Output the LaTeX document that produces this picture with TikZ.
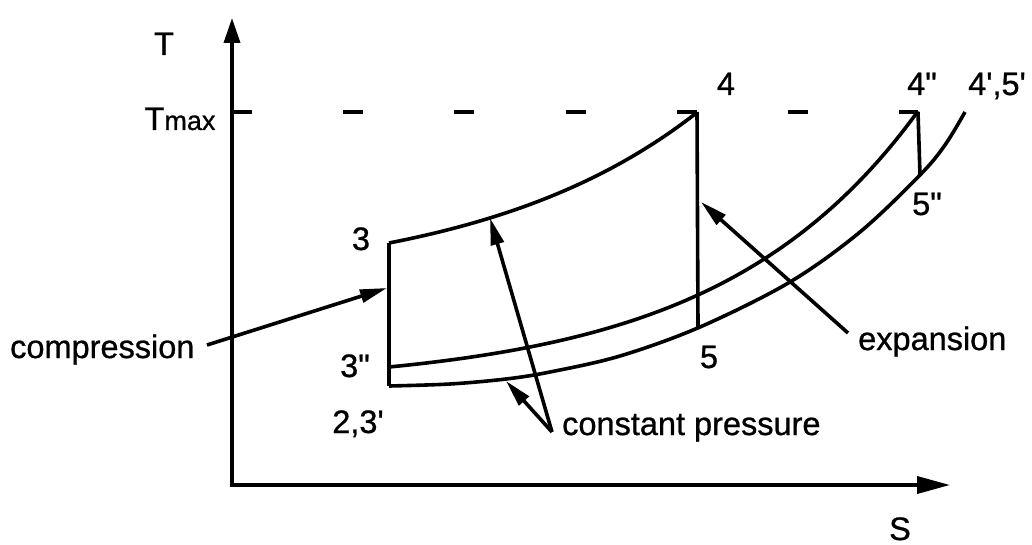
\documentclass[tikz,border=0pt]{standalone}
\usepackage{fontspec}
\newfontfamily\lab[FakeBold=0.8]{Liberation Sans}
\usetikzlibrary{arrows.meta}
\begin{document}
\begin{tikzpicture}[x=1pt,y=-1pt,
  line/.style={line width=3.6pt},
  axisline/.style={line width=3.6pt,line join=miter,{Triangle[length=25pt,width=16pt]}-{Triangle[length=33pt,width=17pt]}},
  pointer/.style={line width=3.6pt,-{Triangle[length=27pt,width=13pt]}},
  lbl/.style={font=\lab\fontsize{32.5}{38}\selectfont, inner sep=0pt, anchor=base},
  word/.style={font=\lab\fontsize{32.5}{38}\selectfont, inner sep=0pt, anchor=base west},
]
\useasboundingbox (0,0) rectangle (1032,545);
\fill[white] (0,0) rectangle (1032,545);

% axes
\coordinate (O) at (232,485);
\coordinate (Ttop) at (232,18);
\coordinate (Send) at (950,485);
\draw[axisline] (Ttop) -- (O) -- (Send);

% cycle points
\coordinate (p3) at (389,243);
\coordinate (p3pp) at (389,367);
\coordinate (p23) at (389,386);
\coordinate (p4) at (697,112);
\coordinate (p5) at (698,327);
\coordinate (p4pp) at (918,112);
\coordinate (p5pp) at (920,175);
\coordinate (p45) at (965,112);
\coordinate (Tm) at (232,112);

% Tmax dashed line
\draw[line, dash pattern=on 20pt off 91.2pt] (Tm) -- (p4pp);

% constant pressure curves
\draw[line] plot[domain=389:697, samples=60] (\x,{243-43.5*(exp(0.0045*(\x-389))-1)});
\draw[line] plot[domain=389:918, samples=80] (\x,{367-19.5*(exp(0.005*(\x-389))-1)});
\draw[line] plot[smooth, tension=0.55] coordinates {(389,386) (450,384) (506,379) (550,372) (620,356) (700,327) (790,282) (860,232) (920,175) (945,145) (965,112)};

% vertical processes
\draw[line] (p3) -- (p23);
\draw[line] (p4) -- (p5);
\draw[line] (p4pp) -- (p5pp);

% labels
\node[lbl] (lT) at (164,55) {T};
\node[lbl] (lTmax) at (180,130) {T{\fontsize{27}{30}\selectfont max}};
\node[lbl] (l4) at (726,95) {4};
\node[lbl] (l4pp) at (922,95) {4"};
\node[lbl] (l45) at (997,95) {4',5'};
\node[lbl] (l5pp) at (927,215) {5"};
\node[lbl] (l3) at (361,250) {3};
\node[lbl] (l3pp) at (355,377) {3"};
\node[lbl] (l23) at (358,433) {2,3'};
\node[lbl] (l5) at (709,368) {5};
\node[lbl] (lS) at (900,540) {S};
\node[word] (comp) at (10,358) {compression};
\node[word] (expn) at (858,350) {expansion};
\node[word] (cp) at (562,435) {constant pressure};

% pointers
\coordinate (cmpS) at (207,345);
\coordinate (cmpT) at (387,288);
\coordinate (cpJ) at (552,432);
\coordinate (cpA) at (490,218);
\coordinate (cpB) at (506,381);
\coordinate (expS) at (848,333);
\coordinate (expT) at (701,202);
\draw[pointer] (cmpS) -- (cmpT);
\draw[pointer] (cpJ) -- (cpA);
\draw[pointer] (cpJ) -- (cpB);
\draw[pointer] (expS) -- (expT);
\end{tikzpicture}
\end{document}
